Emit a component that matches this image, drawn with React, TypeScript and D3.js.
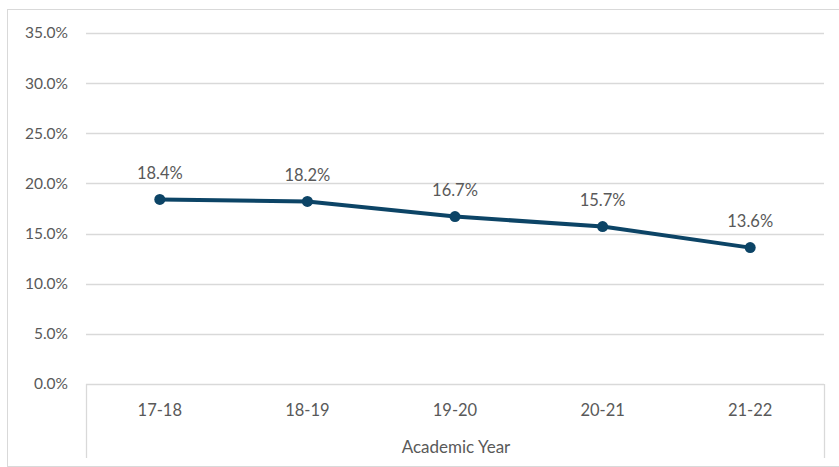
import React from "react";
import * as d3 from "d3";

const categories = ["17-18", "18-19", "19-20", "20-21", "21-22"];
const values = [18.4, 18.2, 16.7, 15.7, 13.6];
const yTicks = [0, 5, 10, 15, 20, 25, 30, 35];
const xTitle = "Academic Year";

export default function App() {
  const W = 839, H = 467;
  const left = 86, right = 824, top = 33, bottom = 384;
  const x = d3.scaleBand<string>().domain(categories).range([left, right]);
  const y = d3.scaleLinear().domain([0, 35]).range([bottom, top]);
  const cx = (c: string) => (x(c) as number) + x.bandwidth() / 2;
  const line = d3.line<number>().x((_, i) => cx(categories[i])).y((v) => y(v));
  const font = "Lato, 'Open Sans', sans-serif";
  const txt = "#595959";
  return (
    <svg width={W} height={H} style={{ position: "absolute", left: 0, top: 0 }} fontFamily={font}>
      <rect x={0} y={0} width={W} height={H} fill="#fff" />
      <rect x={7.5} y={9.5} width={W + 10} height={457} fill="none" stroke="#d9d9d9" />
      {yTicks.map((t) => (
        <g key={t}>
          <line x1={left} x2={right} y1={Math.round(y(t)) + 0.5} y2={Math.round(y(t)) + 0.5} stroke="#d9d9d9" strokeWidth={1.3} />
          <text x={68} y={y(t)} dy="0.35em" textAnchor="end" fontSize={15.5} fill={txt}>
            {t.toFixed(1)}%
          </text>
        </g>
      ))}
      <line x1={left + 0.5} x2={left + 0.5} y1={bottom} y2={458} stroke="#d9d9d9" strokeWidth={1.3} />
      <line x1={right + 0.5} x2={right + 0.5} y1={bottom} y2={458} stroke="#d9d9d9" strokeWidth={1.3} />
      {categories.map((c) => (
        <text key={c} x={cx(c)} y={410} dy="0.35em" textAnchor="middle" fontSize={16.5} fill={txt}>
          {c}
        </text>
      ))}
      <text x={(left + right) / 2 + 1} y={447} dy="0.35em" textAnchor="middle" fontSize={17} fill={txt}>
        {xTitle}
      </text>
      <path d={line(values) || ""} fill="none" stroke="#0c4466" strokeWidth={4} strokeLinejoin="round" />
      {values.map((v, i) => (
        <g key={i}>
          <circle cx={cx(categories[i])} cy={y(v)} r={5.5} fill="#0c4466" />
          <text x={cx(categories[i])} y={y(v) - 26} dy="0.35em" textAnchor="middle" fontSize={16.5} fill={txt}>
            {v.toFixed(1)}%
          </text>
        </g>
      ))}
    </svg>
  );
}
